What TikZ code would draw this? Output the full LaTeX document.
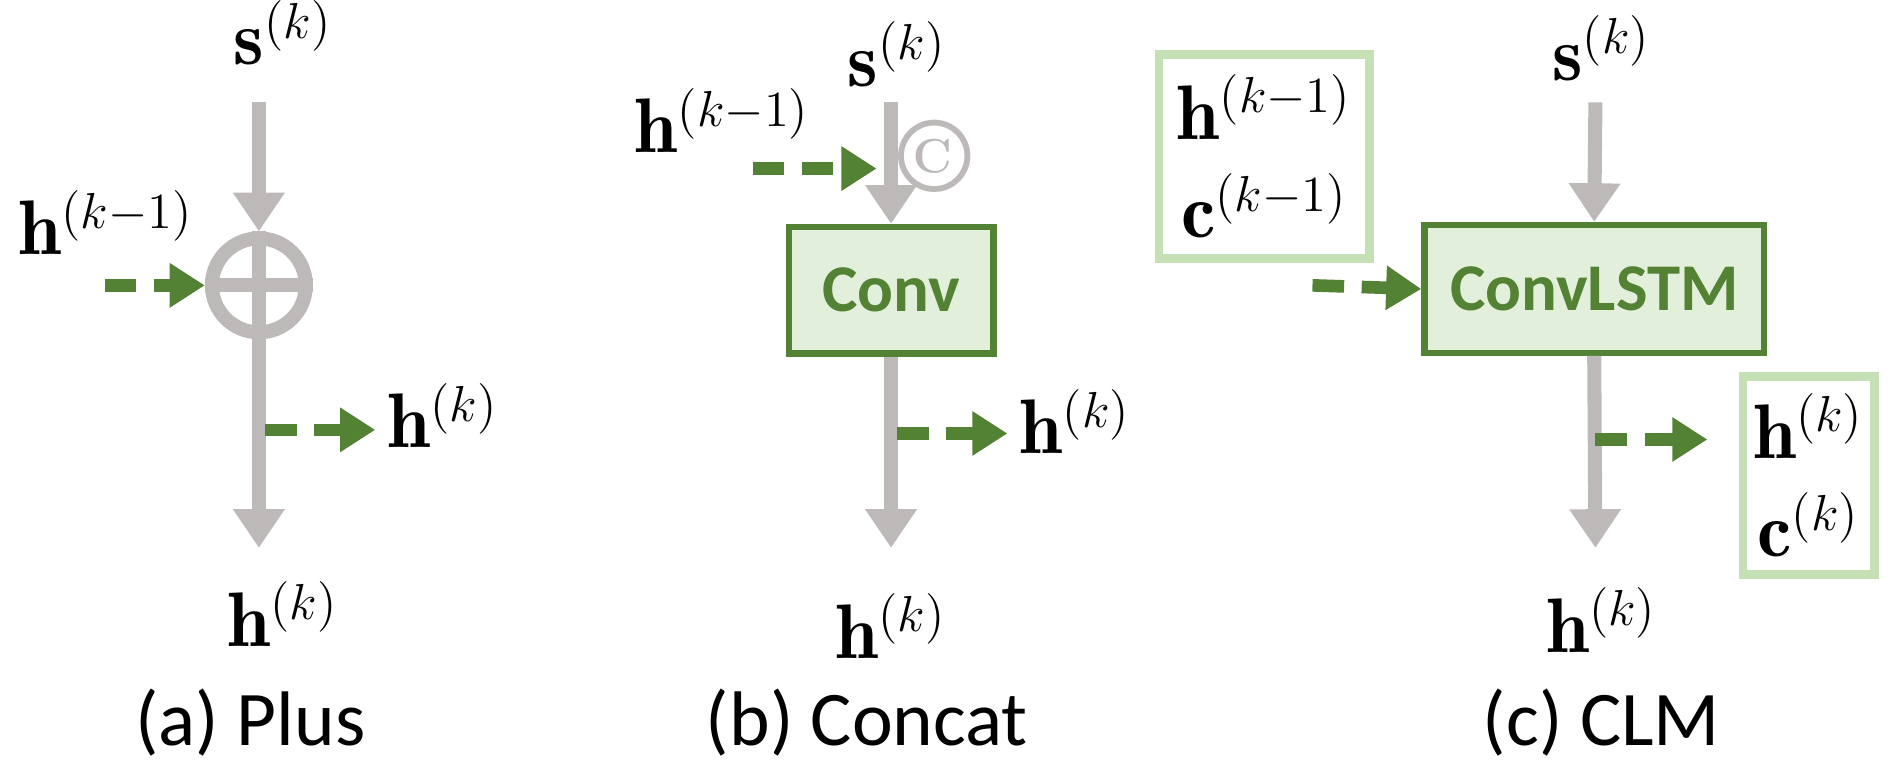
\documentclass[tikz,border=0pt]{standalone}
\usepackage{amssymb,amsmath}
\usepackage{fontspec}
\setsansfont{Carlito}
\usetikzlibrary{arrows.meta}
\definecolor{arrgray}{RGB}{190,185,185}
\definecolor{dgreen}{RGB}{84,130,53}
\definecolor{boxfill}{RGB}{226,239,218}
\definecolor{lgreen}{RGB}{197,224,180}
\tikzset{
  feed/.style={draw=arrgray, line width=4pt, -{Triangle[length=11pt,width=14pt]}},
  skip/.style={draw=dgreen, line width=3.6pt, dash pattern=on 9pt off 5pt, -{Triangle[length=10pt,width=12pt]}},
  lbl/.style={font=\fontsize{22}{26}\selectfont},
  caption/.style={font=\sffamily\fontsize{22}{26}\selectfont},
  block/.style={draw=dgreen, line width=1.8pt, fill=boxfill, text=dgreen, font=\sffamily\bfseries\fontsize{19}{22}\selectfont, inner sep=0pt},
  state/.style={draw=lgreen, line width=2.5pt, align=center, font=\fontsize{22}{28}\selectfont, inner sep=0pt}
}
\begin{document}
\begin{tikzpicture}[x=0.01204cm, y=-0.01204cm]
    \useasboundingbox (0,0) rectangle (1568,636);
    % (a) Plus
    \node[lbl] at (235,27) (Sa) {$\mathbf{s}^{(k)}$};
    \node[draw=arrgray, line width=4pt, circle, minimum size=78*0.01204cm, inner sep=0pt] at (215,237) (Pa) {};
    \draw[arrgray, line width=4pt] (Pa.north) -- (Pa.south) (Pa.west) -- (Pa.east);
    \coordinate (Ta) at (215,85);
    \coordinate (Ba) at (215,455);
    \path [feed] (Ta) -- (Pa.north);
    \path [feed] (Pa.south) -- (Ba);
    \node[lbl] at (88,185) (Ha) {$\mathbf{h}^{(k-1)}$};
    \coordinate (Ia) at (87,237);
    \path [skip] (Ia) -- (Pa.west);
    \coordinate (Oa) at (220,357);
    \node[lbl] at (368,345) (Ra) {$\mathbf{h}^{(k)}$};
    \path [skip] (Oa) -- (Oa -| Ra.west);
    \node[lbl] at (235,510) (Ea) {$\mathbf{h}^{(k)}$};
    \node[caption] at (208,600) (Ca) {(a) Plus};
    % (b) Concat
    \node[lbl] at (745,45) (Sb) {$\mathbf{s}^{(k)}$};
    \node[lbl] at (600,100) (Hb) {$\mathbf{h}^{(k-1)}$};
    \node[text=arrgray, font=\fontsize{30}{32}\selectfont\bfseries] at (776,130) (Cc) {\textcopyright};
    \node[block, minimum width=170*0.01204cm, minimum height=105*0.01204cm] at (740,241) (Conv) {Conv};
    \coordinate (Tb) at (740,85);
    \coordinate (Bb) at (740,455);
    \path [feed] (Tb) -- (Conv.north);
    \path [feed] (Conv.south) -- (Bb);
    \coordinate (Ib) at (625,140);
    \coordinate (Jb) at (728,140);
    \path [skip] (Ib) -- (Jb);
    \coordinate (Ob) at (745,360);
    \node[lbl] at (893,350) (Rb) {$\mathbf{h}^{(k)}$};
    \path [skip] (Ob) -- (Ob -| Rb.west);
    \node[lbl] at (740,520) (Eb) {$\mathbf{h}^{(k)}$};
    \node[caption] at (720,600) (Cb) {(b) Concat};
    % (c) CLM
    \node[lbl] at (1330,40) (Sc) {$\mathbf{s}^{(k)}$};
    \node[block, minimum width=282*0.01204cm, minimum height=106*0.01204cm] at (1324,240) (Lstm) {ConvLSTM};
    \coordinate (Tc) at (1325,85);
    \coordinate (Bc) at (1325,455);
    \path [feed] (Tc) -- (Lstm.north);
    \path [feed] (Lstm.south) -- (Bc);
    \node[state, minimum width=175*0.01204cm, minimum height=170*0.01204cm] at (1050,130) (Prev) {$\mathbf{h}^{(k-1)}$\\$\mathbf{c}^{(k-1)}$};
    \coordinate (Ic) at (1090,237);
    \path [skip] (Ic) -- (Lstm.west);
    \node[state, minimum width=109*0.01204cm, minimum height=164*0.01204cm] at (1502,395) (Next) {$\mathbf{h}^{(k)}$\\$\mathbf{c}^{(k)}$};
    \coordinate (Oc) at (1325,365);
    \coordinate (Jc) at (1418,365);
    \path [skip] (Oc) -- (Jc);
    \node[lbl] at (1330,515) (Ec) {$\mathbf{h}^{(k)}$};
    \node[caption] at (1330,600) (Cl) {(c) CLM};
\end{tikzpicture}
\end{document}
